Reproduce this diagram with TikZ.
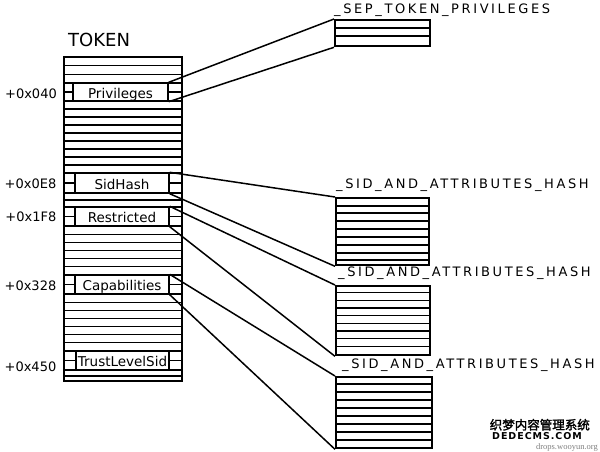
\documentclass[tikz,border=0pt]{standalone}
\usepackage{fontspec}
\setmainfont{DejaVu Sans}
\newfontfamily\widefont[LetterSpace=20]{DejaVu Sans}
\newfontfamily\cjkbold[FakeBold=2]{Noto Sans CJK SC}
\newfontfamily\wmfont[LetterSpace=10]{DejaVu Sans}
\newfontfamily\wmserif{Liberation Serif}
\begin{document}
\begin{tikzpicture}[x=1pt,y=-1pt,inner sep=0pt,
  bigbox/.style={draw, line width=2.3pt, inner sep=0pt},
  stripe/.style={line width=1.1pt},
  field/.style={draw, fill=white, line width=1.4pt, inner sep=0pt, minimum width=95pt,
                text height=12.6pt, text depth=0pt, font=\fontsize{13.5}{16}\selectfont},
  conn/.style={line width=1.5pt},
  offs/.style={anchor=base east, font=\fontsize{13}{15}\selectfont},
  tname/.style={anchor=base west, font=\widefont\fontsize{13}{15}\selectfont}]
\fill[white] (0,0) rectangle (600,451);
\useasboundingbox (0,0) rectangle (600,451);

% TOKEN structure
\node[anchor=base west, font=\fontsize{18}{20}\selectfont] (tokentitle) at (68,46.7) {TOKEN};
\node[bigbox, minimum width=118pt, minimum height=324pt] (token) at (123,219) {};
\foreach \y in {65.7,74.3,83,92,101,109,117,125,133,141,149,157,165,173,183,193,200,207,216.5,226,
                234.2,242.3,250.5,258.7,266.8,275,284.5,294,302.1,310.3,318.4,326.6,334.7,342.9,351,360.5,370,376}
  \draw[stripe] (token.west |- 0,\y) -- (token.east |- 0,\y);

\node[field, minimum height=18pt] (priv) at (120.5,92) {Privileges};
\node[field, minimum width=94pt, minimum height=20pt] (sidhash) at (122,183) {SidHash};
\node[field, minimum width=94pt, minimum height=19pt] (restr) at (122,216.5) {Restricted};
\node[field, minimum width=94pt, minimum height=19pt] (caps) at (122,284.5) {Capabilities};
\node[field, minimum width=93pt, minimum height=19pt] (trust) at (122.5,360.5) {TrustLevelSid};

\node[offs] (o1) at (57,98.3) {+0x040};
\node[offs] (o2) at (56.5,188.5) {+0x0E8};
\node[offs] (o3) at (56.5,221) {+0x1F8};
\node[offs] (o4) at (56.5,290) {+0x328};
\node[offs] (o5) at (56.5,371) {+0x450};

% _SEP_TOKEN_PRIVILEGES
\node[tname] (septitle) at (334,13) {\_SEP\_TOKEN\_PRIVILEGES};
\node[bigbox, minimum width=95pt, minimum height=26pt, anchor=north west] (sep) at (334,19) {};
\foreach \y in {28,36}
  \draw[stripe] (sep.west |- 0,\y) -- (sep.east |- 0,\y);

% hash 1
\node[tname] (h1title) at (336,188) {\_SID\_AND\_ATTRIBUTES\_HASH};
\node[bigbox, minimum width=93pt, minimum height=67pt, anchor=north west] (hash1) at (335,197) {};
\foreach \y in {206,213,221,229,237,245,253,260}
  \draw[stripe] (hash1.west |- 0,\y) -- (hash1.east |- 0,\y);

% hash 2
\node[tname] (h2title) at (338,276) {\_SID\_AND\_ATTRIBUTES\_HASH};
\node[bigbox, minimum width=94pt, minimum height=69pt, anchor=north west] (hash2) at (335,285) {};
\foreach \y in {292.7,300.3,308,315.7,323.3,331,338.7,346.3}
  \draw[stripe] (hash2.west |- 0,\y) -- (hash2.east |- 0,\y);

% hash 3
\node[tname] (h3title) at (342,368.5) {\_SID\_AND\_ATTRIBUTES\_HASH};
\node[bigbox, minimum width=96pt, minimum height=71pt, anchor=north west] (hash3) at (335,376) {};
\foreach \y in {384,392,400,408,416,424,432,440}
  \draw[stripe] (hash3.west |- 0,\y) -- (hash3.east |- 0,\y);

% connectors
\draw[conn] (priv.north east) -- (sep.north west);
\draw[conn] (priv.south east) -- (sep.south west);
\draw[conn] (sidhash.north east) -- (hash1.north west);
\draw[conn] (sidhash.south east) -- (hash1.south west);
\draw[conn] (restr.north east) -- (hash2.north west);
\draw[conn] (restr.south east) -- (hash2.south west);
\draw[conn] (caps.north east) -- (hash3.north west);
\draw[conn] (caps.south east) -- (hash3.south west);

% watermark
\node[anchor=base east, font=\cjkbold\fontsize{12.5}{14}\selectfont] (wm1) at (590,429.5) {织梦内容管理系统};
\node[anchor=base west, font=\wmfont\bfseries\fontsize{9.5}{11}\selectfont] (wm2) at (492,439.5) {DEDECMS.COM};
\node[anchor=base east, text=gray, font=\wmserif\fontsize{8.5}{10}\selectfont] (wm3) at (598,449) {drops.wooyun.org};
\end{tikzpicture}
\end{document}
